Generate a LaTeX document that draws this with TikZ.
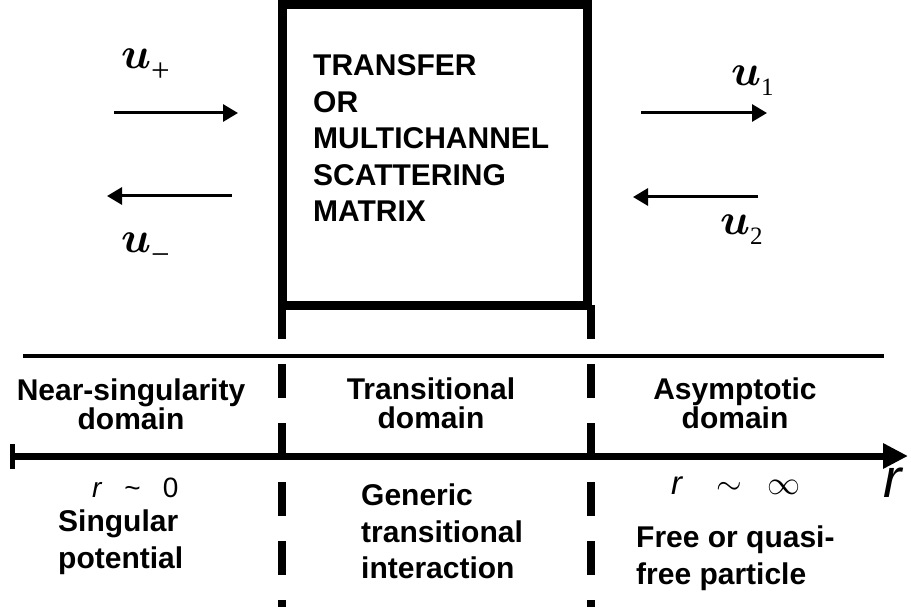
\documentclass[tikz,border=0pt]{standalone}
\usepackage{fix-cm}
\usepackage{bm}
\usepackage{fontspec}
\setmainfont{Liberation Sans}
\newfontfamily\serif{Liberation Serif}
\usetikzlibrary{arrows.meta}

\newcommand{\indice}[2][25]{\lower10pt\hbox{\serif\fontsize{#1}{#1}\selectfont #2}}
\newcommand{\signe}[1]{\lower13pt\hbox{\serif\fontsize{33}{33}\selectfont #1}}
\newcommand{\serre}{\lineskiplimit=-100pt\relax\lineskip=0pt\relax}

\begin{document}
\begin{tikzpicture}
  [x=1pt, y=-1pt,
  matrice/.style={
    draw=black,
    rectangle,
    line width=9pt,
    inner sep=0pt,
    outer sep=0pt,
    minimum width=305pt,
    minimum height=301pt},
  texte/.style={
    inner sep=0pt,
    align=left,
    font=\fontsize{30}{36.5}\selectfont\bfseries},
  domaine/.style={
    inner sep=0pt,
    align=center,
    font=\fontsize{30}{29}\selectfont\bfseries\serre},
  onde/.style={
    inner sep=0pt,
    font=\fontsize{44}{44}\selectfont},
  fleche/.style={
    line width=3pt,
    -{Triangle[length=15pt,width=17pt]}},
  pointille/.style={
    line width=8.5pt,
    dash pattern=on 34pt off 25pt}]

  \useasboundingbox (0,0) rectangle (911,612);

  \node [matrice] at (434.5,154.75) (matrix) {};

  \node [texte, anchor=north west] at (313,54.5) (titre) {
    TRANSFER\\OR\\MULTICHANNEL\\SCATTERING\\MATRIX};

  % ondes entrantes et sortantes
  \node [onde, anchor=base west] at (121,69) (uplus) {$\bm{u}$\signe{+}};
  \node [onde, anchor=base west] at (121,253) (umoins) {$\bm{u}$\signe{−}};
  \node [onde, anchor=base west] at (731,86) (uun) {$\bm{u}$\indice{1}};
  \node [onde, anchor=base west] at (720,235) (udeux) {$\bm{u}$\indice{2}};

  \coordinate (g1) at (114,113);
  \coordinate (d1) at (238,113);
  \coordinate (d2) at (232,196);
  \coordinate (g2) at (107,196);
  \coordinate (g3) at (641,113);
  \coordinate (d3) at (767,113);
  \coordinate (d4) at (758,197);
  \coordinate (g4) at (633,197);

  \draw [fleche] (g1) -- (d1);
  \draw [fleche] (d2) -- (g2);
  \draw [fleche] (g3) -- (d3);
  \draw [fleche] (d4) -- (g4);

  % separation et domaines
  \coordinate (sepg) at (23,356);
  \coordinate (sepd) at (884,356);
  \draw [line width=3.5pt] (sepg) -- (sepd);

  \draw [pointille] (matrix.south west) -- ++(0,302);
  \draw [pointille] ([xshift=4pt]matrix.south east) -- ++(0,302);

  \node [domaine, anchor=north] at (131,379) (proche) {Near-singularity\\domain};
  \node [domaine, anchor=north] at (431,378) (transition) {Transitional\\domain};
  \node [domaine, anchor=north] at (735,378) (asymptote) {Asymptotic\\domain};

  % axe r
  \coordinate (r0) at (12,456);
  \coordinate (rfin) at (908,456);
  \draw [line width=7pt, -{Triangle[length=25pt,width=24pt]}] (r0) -- (rfin);
  \draw [line width=5pt] (r0) ++(0,-12) -- ++(0,25);
  \node [anchor=base west, inner sep=0pt, font=\fontsize{55}{55}\selectfont\itshape]
    at (883,497) (raxe) {r};

  \node [anchor=base west, inner sep=0pt, font=\fontsize{28}{28}\selectfont]
    at (92,497) (rzero) {\textit{r}\hspace{22pt}\textasciitilde\hspace{22pt}0};
  \node [anchor=base west, inner sep=0pt, font=\fontsize{33}{33}\selectfont]
    at (671,494) (rinfini) {\textit{r}\hspace{33pt}$\sim$\hspace{26pt}$\infty$};

  \node [texte, anchor=north west] at (58,510) (singulier) {Singular\\potential};
  \node [texte, anchor=north west] at (361,484) (generique) {Generic\\transitional\\interaction};
  \node [texte, anchor=north west] at (636,526) (libre) {Free or quasi-\\free particle};
\end{tikzpicture}
\end{document}
